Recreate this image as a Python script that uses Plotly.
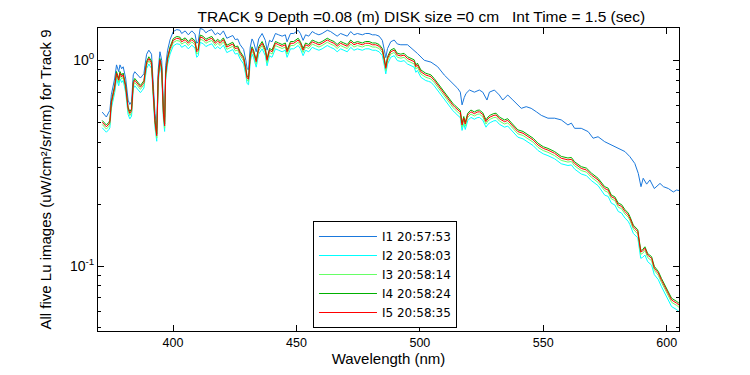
import plotly.graph_objects as go

# ---------------- data ----------------
wavelength = [
    371.3, 372.0, 373.0, 374.0, 374.4, 375.0, 375.5, 376.4, 377.1, 378.0,
    378.5, 379.2, 379.8, 380.8, 381.8, 382.5, 383.2, 383.9, 384.5, 385.2,
    385.9, 386.8, 387.5, 388.2, 388.6, 389.3, 390.2, 391.3, 392.0, 392.7,
    393.4, 394.0, 394.7, 395.4, 396.1, 396.6, 397.0, 397.8, 398.8, 400.1,
    401.5, 402.8, 403.5, 404.9, 406.2, 407.6, 408.9, 409.6, 410.2, 411.0,
    412.3, 413.3, 414.3, 415.7, 417.1, 418.1, 419.1, 420.4, 421.8, 423.2,
    424.2, 425.2, 426.2, 427.2, 428.6, 429.5, 430.0, 430.6, 431.3, 432.0,
    432.6, 433.7, 434.7, 436.1, 437.4, 438.1, 439.1, 440.1, 441.5, 442.8,
    444.2, 445.5, 446.2, 447.6, 448.9, 450.7, 451.6, 452.7, 453.7, 455.0,
    456.4, 457.7, 459.1, 460.4, 462.5, 463.8, 465.2, 466.5, 467.9, 469.2,
    470.6, 472.0, 473.3, 474.7, 476.7, 478.0, 479.4, 480.8, 482.1, 483.5,
    484.8, 485.5, 486.2, 486.9, 488.2, 489.6, 490.9, 492.3, 493.6, 495.0,
    496.3, 497.7, 498.4, 499.0, 500.4, 501.5, 502.4, 503.5, 504.5, 505.8,
    507.2, 508.2, 509.2, 510.3, 511.3, 512.3, 513.3, 514.3, 515.3, 516.4,
    517.1, 517.8, 518.4, 519.4, 520.7, 522.1, 523.2, 524.1, 525.5, 526.8,
    527.6, 528.5, 530.0, 530.9, 532.2, 533.2, 534.3, 535.6, 536.8, 537.7,
    538.7, 539.7, 541.8, 543.8, 545.9, 547.9, 550.0, 551.9, 553.3, 554.6,
    557.3, 559.0, 560.0, 561.4, 562.7, 565.4, 567.5, 569.5, 572.2, 574.9,
    576.3, 577.6, 579.0, 580.4, 581.7, 583.1, 584.4, 585.1, 586.5, 588.3,
    588.8, 589.5, 590.2, 591.2, 592.3, 593.9, 595.0, 596.6, 597.9, 599.3,
    600.7, 602.0, 604.1, 605.7,
]

lu_i5 = [
    0.500, 0.490, 0.475, 0.490, 0.500, 0.620, 0.665, 0.744, 0.865, 0.800,
    0.865, 0.830, 0.850, 0.744, 0.580, 0.552, 0.570, 0.773, 0.800, 0.780,
    0.760, 0.740, 0.760, 0.780, 0.850, 0.970, 1.020, 0.970, 0.690, 0.500,
    0.430, 0.820, 1.000, 0.910, 0.550, 0.480, 0.850, 1.020, 1.140, 1.250,
    1.280, 1.270, 1.230, 1.260, 1.210, 1.260, 1.220, 1.100, 1.120, 1.300,
    1.280, 1.240, 1.260, 1.280, 1.210, 1.240, 1.210, 1.260, 1.160, 1.180,
    1.200, 1.140, 1.150, 1.080, 1.020, 0.900, 0.820, 0.810, 1.050, 1.140,
    1.100, 0.985, 1.140, 1.210, 1.120, 1.000, 1.120, 1.100, 1.210, 1.190,
    1.170, 1.190, 1.100, 1.210, 1.210, 1.255, 1.210, 1.120, 1.190, 1.170,
    1.230, 1.210, 1.190, 1.210, 1.255, 1.230, 1.210, 1.170, 1.210, 1.190,
    1.170, 1.230, 1.190, 1.210, 1.190, 1.210, 1.210, 1.190, 1.190, 1.170,
    1.120, 1.020, 0.914, 1.020, 1.100, 1.120, 1.060, 1.050, 1.060, 1.020,
    1.000, 0.985, 0.930, 0.950, 0.880, 0.860, 0.848, 0.840, 0.832, 0.800,
    0.758, 0.730, 0.704, 0.680, 0.653, 0.630, 0.607, 0.590, 0.573, 0.560,
    0.485, 0.523, 0.490, 0.542, 0.562, 0.550, 0.560, 0.562, 0.545, 0.503,
    0.520, 0.530, 0.540, 0.542, 0.520, 0.510, 0.503, 0.510, 0.490, 0.475,
    0.460, 0.450, 0.442, 0.425, 0.410, 0.387, 0.373, 0.366, 0.360, 0.353,
    0.334, 0.330, 0.328, 0.330, 0.315, 0.298, 0.293, 0.277, 0.262, 0.238,
    0.234, 0.217, 0.213, 0.198, 0.195, 0.184, 0.177, 0.171, 0.155, 0.147,
    0.131, 0.117, 0.118, 0.122, 0.113, 0.109, 0.0976, 0.0924, 0.0853, 0.0794,
    0.0738, 0.0683, 0.0659, 0.0636,
]

lu_i4 = [
    0.510, 0.500, 0.485, 0.500, 0.510, 0.632, 0.678, 0.759, 0.882, 0.816,
    0.882, 0.847, 0.867, 0.759, 0.592, 0.563, 0.581, 0.788, 0.816, 0.796,
    0.775, 0.755, 0.775, 0.796, 0.867, 0.989, 1.040, 0.989, 0.704, 0.510,
    0.439, 0.836, 1.020, 0.928, 0.561, 0.490, 0.867, 1.040, 1.163, 1.275,
    1.306, 1.295, 1.255, 1.285, 1.234, 1.285, 1.244, 1.122, 1.142, 1.326,
    1.306, 1.265, 1.285, 1.306, 1.234, 1.265, 1.234, 1.285, 1.183, 1.204,
    1.224, 1.163, 1.173, 1.102, 1.040, 0.918, 0.836, 0.826, 1.071, 1.163,
    1.122, 1.005, 1.163, 1.234, 1.142, 1.020, 1.142, 1.122, 1.234, 1.214,
    1.193, 1.214, 1.122, 1.234, 1.234, 1.280, 1.234, 1.142, 1.214, 1.193,
    1.255, 1.234, 1.214, 1.234, 1.280, 1.255, 1.234, 1.193, 1.234, 1.214,
    1.193, 1.255, 1.214, 1.234, 1.214, 1.234, 1.234, 1.214, 1.214, 1.193,
    1.142, 1.040, 0.932, 1.040, 1.122, 1.142, 1.081, 1.071, 1.081, 1.040,
    1.020, 1.005, 0.949, 0.969, 0.898, 0.877, 0.865, 0.857, 0.849, 0.816,
    0.773, 0.745, 0.718, 0.694, 0.666, 0.643, 0.619, 0.602, 0.584, 0.571,
    0.495, 0.533, 0.500, 0.553, 0.573, 0.561, 0.571, 0.573, 0.556, 0.513,
    0.530, 0.541, 0.551, 0.553, 0.530, 0.520, 0.513, 0.520, 0.500, 0.485,
    0.469, 0.459, 0.451, 0.434, 0.418, 0.395, 0.380, 0.373, 0.367, 0.360,
    0.341, 0.337, 0.335, 0.337, 0.321, 0.304, 0.299, 0.283, 0.267, 0.243,
    0.239, 0.221, 0.217, 0.202, 0.199, 0.188, 0.181, 0.174, 0.158, 0.150,
    0.134, 0.119, 0.120, 0.124, 0.115, 0.111, 0.0996, 0.0942, 0.0870, 0.0810,
    0.0753, 0.0697, 0.0672, 0.0649,
]

lu_i3 = [
    0.488, 0.478, 0.463, 0.478, 0.488, 0.605, 0.648, 0.725, 0.843, 0.780,
    0.843, 0.809, 0.829, 0.725, 0.566, 0.538, 0.556, 0.754, 0.780, 0.761,
    0.741, 0.722, 0.741, 0.761, 0.829, 0.946, 0.995, 0.946, 0.673, 0.488,
    0.419, 0.800, 0.975, 0.887, 0.536, 0.468, 0.829, 0.995, 1.112, 1.219,
    1.248, 1.238, 1.199, 1.229, 1.180, 1.229, 1.190, 1.073, 1.092, 1.268,
    1.248, 1.209, 1.229, 1.248, 1.180, 1.209, 1.180, 1.229, 1.131, 1.151,
    1.170, 1.112, 1.121, 1.053, 0.995, 0.878, 0.800, 0.790, 1.024, 1.112,
    1.073, 0.960, 1.112, 1.180, 1.092, 0.975, 1.092, 1.073, 1.180, 1.160,
    1.141, 1.160, 1.073, 1.180, 1.180, 1.224, 1.180, 1.092, 1.160, 1.141,
    1.199, 1.180, 1.160, 1.180, 1.224, 1.199, 1.180, 1.141, 1.180, 1.160,
    1.141, 1.199, 1.160, 1.180, 1.160, 1.180, 1.180, 1.160, 1.160, 1.141,
    1.092, 0.995, 0.891, 0.995, 1.073, 1.092, 1.034, 1.024, 1.034, 0.995,
    0.975, 0.960, 0.907, 0.926, 0.858, 0.839, 0.827, 0.819, 0.811, 0.780,
    0.739, 0.712, 0.686, 0.663, 0.637, 0.614, 0.592, 0.575, 0.559, 0.546,
    0.473, 0.510, 0.478, 0.528, 0.548, 0.536, 0.546, 0.548, 0.531, 0.490,
    0.507, 0.517, 0.527, 0.528, 0.507, 0.497, 0.490, 0.497, 0.478, 0.463,
    0.449, 0.439, 0.431, 0.414, 0.400, 0.377, 0.364, 0.357, 0.351, 0.344,
    0.326, 0.322, 0.320, 0.322, 0.307, 0.291, 0.286, 0.270, 0.255, 0.232,
    0.228, 0.212, 0.208, 0.193, 0.190, 0.179, 0.173, 0.167, 0.151, 0.143,
    0.128, 0.114, 0.115, 0.119, 0.110, 0.106, 0.0952, 0.0901, 0.0832, 0.0774,
    0.0720, 0.0666, 0.0643, 0.0620,
]

lu_i2 = [
    0.470, 0.461, 0.447, 0.461, 0.470, 0.583, 0.625, 0.699, 0.813, 0.752,
    0.813, 0.780, 0.799, 0.699, 0.545, 0.519, 0.536, 0.727, 0.752, 0.733,
    0.714, 0.696, 0.714, 0.733, 0.799, 0.912, 0.959, 0.912, 0.649, 0.470,
    0.404, 0.771, 0.940, 0.855, 0.517, 0.451, 0.799, 0.959, 1.072, 1.175,
    1.203, 1.194, 1.156, 1.184, 1.137, 1.184, 1.147, 1.034, 1.053, 1.222,
    1.203, 1.166, 1.184, 1.203, 1.137, 1.166, 1.137, 1.184, 1.090, 1.109,
    1.128, 1.072, 1.081, 1.015, 0.959, 0.846, 0.771, 0.761, 0.987, 1.072,
    1.034, 0.926, 1.072, 1.137, 1.053, 0.940, 1.053, 1.034, 1.137, 1.119,
    1.100, 1.119, 1.034, 1.137, 1.137, 1.180, 1.137, 1.053, 1.119, 1.100,
    1.156, 1.137, 1.119, 1.137, 1.180, 1.156, 1.137, 1.100, 1.137, 1.119,
    1.100, 1.156, 1.119, 1.137, 1.119, 1.137, 1.137, 1.119, 1.119, 1.100,
    1.053, 0.959, 0.859, 0.959, 1.034, 1.053, 0.996, 0.987, 0.996, 0.959,
    0.940, 0.926, 0.874, 0.893, 0.827, 0.808, 0.797, 0.790, 0.782, 0.752,
    0.713, 0.686, 0.662, 0.639, 0.614, 0.592, 0.571, 0.555, 0.539, 0.526,
    0.456, 0.492, 0.461, 0.509, 0.528, 0.517, 0.526, 0.528, 0.512, 0.473,
    0.489, 0.498, 0.508, 0.509, 0.489, 0.479, 0.473, 0.479, 0.461, 0.447,
    0.432, 0.423, 0.415, 0.400, 0.385, 0.364, 0.351, 0.344, 0.338, 0.332,
    0.314, 0.310, 0.308, 0.310, 0.296, 0.280, 0.275, 0.260, 0.246, 0.221,
    0.218, 0.202, 0.198, 0.184, 0.181, 0.171, 0.165, 0.159, 0.144, 0.137,
    0.122, 0.109, 0.110, 0.113, 0.105, 0.101, 0.0908, 0.0859, 0.0793, 0.0738,
    0.0686, 0.0635, 0.0613, 0.0591,
]

wavelength_i1 = [
    371.3, 372.0, 373.0, 374.0, 374.4, 375.0, 375.5, 376.4, 377.1, 378.0,
    378.5, 379.2, 379.8, 380.8, 381.8, 382.5, 383.2, 383.9, 384.5, 385.2,
    385.9, 386.8, 387.5, 388.2, 388.6, 389.3, 390.2, 391.3, 392.0, 392.7,
    393.4, 394.0, 394.7, 395.4, 396.1, 396.6, 397.0, 397.8, 398.8, 400.1,
    401.5, 402.8, 403.5, 404.9, 406.2, 407.6, 408.9, 409.6, 410.2, 411.0,
    412.3, 413.3, 414.3, 415.7, 417.1, 418.1, 419.1, 420.4, 421.8, 423.2,
    424.2, 425.2, 426.2, 427.2, 428.6, 429.5, 430.0, 430.6, 431.3, 432.0,
    432.6, 433.7, 434.7, 436.1, 437.4, 438.1, 439.1, 440.1, 441.5, 442.8,
    444.2, 445.5, 446.2, 447.6, 448.9, 450.7, 451.6, 452.7, 453.7, 455.0,
    456.4, 457.7, 459.1, 460.4, 462.5, 463.8, 465.2, 466.5, 467.9, 469.2,
    470.6, 472.0, 473.3, 474.7, 476.7, 478.0, 479.4, 480.8, 482.1, 483.5,
    484.8, 485.5, 486.2, 486.9, 488.2, 489.6, 490.9, 492.3, 495.0, 499.0,
    501.8, 504.5, 507.2, 509.9, 512.6, 515.3, 516.4, 517.1, 518.0, 518.7,
    520.1, 522.1, 524.1, 525.5, 527.2, 528.2, 530.2, 532.2, 533.6, 535.6,
    537.7, 539.7, 541.1, 543.1, 545.1, 547.2, 549.2, 551.9, 554.6, 557.3,
    560.0, 561.4, 562.7, 565.4, 568.2, 570.2, 572.2, 574.9, 577.6, 580.4,
    583.1, 585.1, 587.1, 588.5, 589.6, 590.5, 591.9, 593.2, 595.0, 597.3,
    598.7, 600.7, 602.7, 604.0, 605.7,
]

lu_i1 = [
    0.56, 0.55, 0.53, 0.56, 0.57, 0.68, 0.73, 0.82, 0.95, 0.88,
    0.95, 0.91, 0.93, 0.82, 0.64, 0.61, 0.63, 0.85, 0.88, 0.86,
    0.84, 0.82, 0.84, 0.86, 0.94, 1.07, 1.12, 1.07, 0.76, 0.55,
    0.47, 0.90, 1.10, 1.00, 0.60, 0.53, 0.94, 1.12, 1.26, 1.38,
    1.41, 1.40, 1.35, 1.39, 1.33, 1.39, 1.34, 1.21, 1.23, 1.43,
    1.41, 1.36, 1.39, 1.41, 1.33, 1.36, 1.33, 1.39, 1.28, 1.30,
    1.32, 1.26, 1.27, 1.19, 1.13, 1.00, 0.91, 0.90, 1.16, 1.27,
    1.23, 1.10, 1.27, 1.35, 1.25, 1.12, 1.25, 1.23, 1.35, 1.33,
    1.31, 1.33, 1.23, 1.35, 1.35, 1.40, 1.35, 1.25, 1.33, 1.31,
    1.38, 1.35, 1.33, 1.35, 1.40, 1.38, 1.35, 1.31, 1.35, 1.33,
    1.31, 1.38, 1.33, 1.35, 1.33, 1.35, 1.35, 1.33, 1.33, 1.31,
    1.25, 1.14, 1.03, 1.14, 1.23, 1.255, 1.20, 1.19, 1.19, 1.08,
    1.00, 0.98, 0.931, 0.848, 0.787, 0.731, 0.700, 0.607, 0.660, 0.690,
    0.717, 0.700, 0.717, 0.700, 0.641, 0.700, 0.717, 0.678, 0.641, 0.678,
    0.641, 0.607, 0.584, 0.595, 0.584, 0.562, 0.540, 0.523, 0.523, 0.513,
    0.485, 0.495, 0.467, 0.467, 0.450, 0.418, 0.425, 0.402, 0.387, 0.373,
    0.360, 0.340, 0.315, 0.282, 0.243, 0.267, 0.250, 0.262, 0.238, 0.252,
    0.243, 0.238, 0.229, 0.234, 0.232,
]

series_names = ["I1 20:57:53", "I2 20:58:03", "I3 20:58:14", "I4 20:58:24", "I5 20:58:35"]
series_colors = ["#1a78dc", "#00ffff", "#66ff66", "#00b000", "#ff0000"]

x_ticks = [400, 450, 500, 550, 600]
y_ticks = [0.1, 1]
y_tick_text = ["10<sup>-1</sup>", "10<sup>0</sup>"]
y_minor = [0.05, 0.06, 0.07, 0.08, 0.09, 0.2, 0.3, 0.4, 0.5, 0.6, 0.7, 0.8, 0.9]

title_text = "TRACK 9 Depth =0.08 (m) DISK size =0 cm   Int Time = 1.5 (sec)"
x_title = "Wavelength (nm)"
y_title = "All five Lu images (uW/cm²/sr/nm) for Track 9"

# ---------------- figure ----------------
FONT = "Liberation Sans, Arial, sans-serif"
LEGEND_FONT = "DejaVu Sans, Liberation Sans, sans-serif"

xs = [wavelength_i1, wavelength, wavelength, wavelength, wavelength]
ys = [lu_i1, lu_i2, lu_i3, lu_i4, lu_i5]

fig = go.Figure()
for x, y, name, color in zip(xs, ys, series_names, series_colors):
    fig.add_trace(go.Scatter(x=x, y=y, mode="lines", name=name,
                             line=dict(color=color, width=1)))

# the page adds an 8 px body margin, so the figure is shifted up/left by 8 px
fig.update_layout(
    width=750, height=375,
    paper_bgcolor="white", plot_bgcolor="white",
    margin=dict(l=90, r=79, t=20, b=52, autoexpand=False),
    font=dict(family=FONT, size=12, color="black"),
    title=dict(text=title_text, x=0.5565, xanchor="center", y=0.976, yanchor="middle",
               xref="paper", yref="container",
               font=dict(family=FONT, size=15.5, color="black")),
    showlegend=True,
    legend=dict(x=0.370, y=0.363, xanchor="left", yanchor="top",
                bgcolor="white", bordercolor="black", borderwidth=1,
                font=dict(family=LEGEND_FONT, size=12, color="black"),
                tracegroupgap=0, itemwidth=58),
)

fig.update_xaxes(
    range=[369.6, 605.0], tickvals=x_ticks, ticks="inside", ticklen=6,
    tickcolor="black", showline=True, linecolor="black", linewidth=1,
    mirror="ticks", showgrid=False, zeroline=False, automargin=False,
    title=dict(text=x_title, font=dict(family=FONT, size=15), standoff=1),
    tickfont=dict(family=FONT, size=12.5),
)

fig.update_yaxes(
    type="log", range=[-1.316, 0.157], tickvals=y_ticks, ticktext=y_tick_text,
    ticks="inside", ticklen=6, tickcolor="black",
    minor=dict(tickvals=y_minor, ticks="inside", ticklen=3, tickcolor="black"),
    showline=True, linecolor="black", linewidth=1, mirror="ticks",
    showgrid=False, zeroline=False, automargin=False,
    title=dict(text=y_title, font=dict(family=FONT, size=15), standoff=14),
    tickfont=dict(family=FONT, size=14),
)

fig.write_html("out.html")
